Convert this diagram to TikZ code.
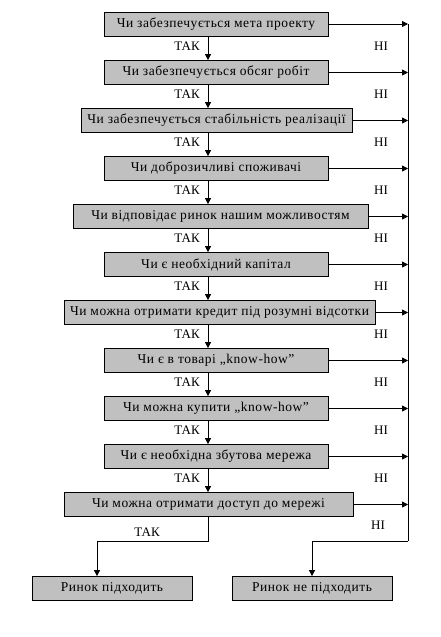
\documentclass[tikz,border=0pt]{standalone}
\usepackage{fontspec}
\setmainfont{Liberation Serif}
\newfontfamily\boxfont[LetterSpace=4]{Liberation Serif}
\usetikzlibrary{arrows.meta}
\begin{document}
\begin{tikzpicture}[x=1pt,y=-1pt,
  qbox/.style={draw=black,fill=boxgray,line width=0.8pt,minimum height=24pt,inner sep=0pt,font=\boxfont\fontsize{13.5}{15}\selectfont},
  arr/.style={-{Triangle[length=6pt,width=6pt]},line width=0.8pt},
  ln/.style={line width=0.8pt},
  lbl/.style={font=\fontsize{13}{15}\selectfont,inner sep=0pt}]
\definecolor{boxgray}{RGB}{192,192,192}
\useasboundingbox (0,0) rectangle (441,637);
\fill[white] (0,0) rectangle (441,637);
\coordinate (mx) at (208,0);
\coordinate (rx) at (408,0);
\node[qbox,minimum width=224pt] (b1) at (216,24) {Чи забезпечується мета проекту};
\node[qbox,minimum width=224pt] (b2) at (216,72.5) {Чи забезпечується обсяг робіт};
\node[qbox,minimum width=271pt] (b3) at (216.5,120.5) {Чи забезпечується стабільність реалізації};
\node[qbox,minimum width=224pt] (b4) at (216,168.5) {Чи доброзичливі споживачі};
\node[qbox,minimum width=295pt] (b5) at (220.5,216.5) {Чи відповідає ринок нашим можливостям};
\node[qbox,minimum width=224pt] (b6) at (216,264.5) {Чи є необхідний капітал};
\node[qbox,minimum width=311pt] (b7) at (219.5,312.5) {Чи можна отримати кредит під розумні відсотки};
\node[qbox,minimum width=224pt] (b8) at (216,360.5) {Чи є в товарі „know-how”};
\node[qbox,minimum width=224pt] (b9) at (216,408.5) {Чи можна купити „know-how”};
\node[qbox,minimum width=224pt] (b10) at (216,456.5) {Чи є необхідна збутова мережа};
\node[qbox,minimum width=289pt] (b11) at (208.5,504.5) {Чи можна отримати доступ до мережі};
\node[qbox,minimum width=160pt] (yes) at (112,588.5) {Ринок підходить};
\node[qbox,minimum width=160pt] (no) at (312,588.5) {Ринок не підходить};
\foreach \i/\j in {1/2,2/3,3/4,4/5,5/6,6/7,7/8,8/9,9/10,10/11}{
  \draw[arr] (b\i.south -| mx) -- (b\j.north -| mx);
  \path (b\i.south) -- (b\j.north) coordinate[pos=0.4] (m\i);
  \node[lbl] at (m\i -| 187,0) {ТАК};
  \node[lbl] at (m\i -| 381,0) {НІ};
}
\foreach \i in {1,...,11}{
  \draw[arr] (b\i.east) -- (b\i.east -| rx);
}
\coordinate (turnR) at (408,541);
\coordinate (turnY) at (97,541);
\draw[ln] (b1.east -| rx) -- (turnR);
\draw[arr] (turnR) -- (turnR -| no.north) -- (no.north);
\draw[arr] (b11.south -| mx) -- (mx |- turnY) -- (turnY) -- (turnY |- yes.north);
\node[lbl] at (147,532) {ТАК};
\node[lbl] at (378,525) {НІ};
\end{tikzpicture}
\end{document}
